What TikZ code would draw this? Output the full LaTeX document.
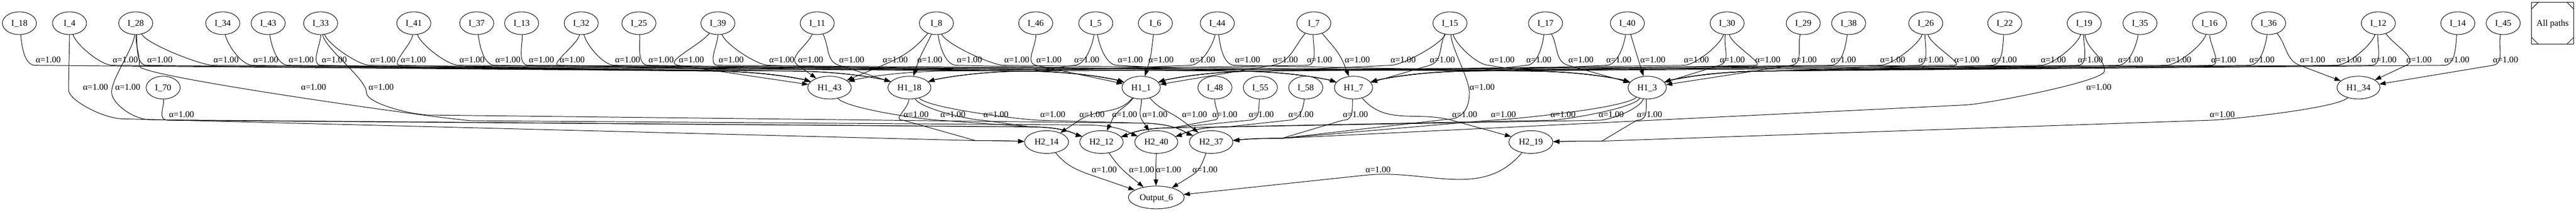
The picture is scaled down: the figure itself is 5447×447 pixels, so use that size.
\documentclass[tikz,border=0pt]{standalone}
\usepackage{fontspec}
\setmainfont{Liberation Serif}
\usetikzlibrary{shapes.geometric,arrows.meta}
\pgfdeclarelayer{bg}
\pgfsetlayers{bg,main}

\newcommand\GNode[5]{%
  \node[nd,minimum width=#4pt] (#1) at (#2,#3) {#5};%
  \expandafter\xdef\csname nx@#1\endcsname{#2}%
  \expandafter\xdef\csname ny@#1\endcsname{#3}%
}
\newcommand\GSetQ[4]{%
  \expandafter\xdef\csname qo@#1\endcsname{#2}%
  \expandafter\xdef\csname qL@#1\endcsname{#3}%
  \expandafter\xdef\csname qR@#1\endcsname{#4}%
}
\newcommand\GInit[2]{%
  \edef\eSX{\csname nx@#1\endcsname}%
  \edef\eSY{\csname ny@#1\endcsname}%
  \edef\eTX{\csname nx@#2\endcsname}%
  \edef\eTY{\csname ny@#2\endcsname}%
  \edef\eQO{\csname qo@#2\endcsname}%
  \edef\eQL{\csname qL@#2\endcsname}%
  \edef\eQR{\csname qR@#2\endcsname}%
}
% edge: source, label x, label y, target
\newcommand\GEdge[4]{%
  \GInit{#1}{#4}%
  \pgfmathsetmacro\eBX{#2-27}%
  \pgfmathsetmacro\eBY{#3+12}%
  \pgfmathtruncatemacro\eSG{(\eTX>\eBX)?1:-1}%
  \ifnum\eSG>0 \let\eQY\eQL\else\let\eQY\eQR\fi
  \pgfmathtruncatemacro\eFar{(abs(\eTX-\eBX)>\eQO+60)?1:0}%
  \ifnum\eFar=1
    \pgfmathsetmacro\ePx{\eSX+0.15*(\eBX-\eSX)}%
    \pgfmathsetmacro\ePy{\eSY+45}%
    \pgfmathsetmacro\eRx{\eBX-(\eSG)*25}%
    \pgfmathsetmacro\eQX{\eTX-(\eSG)*\eQO}%
    \pgfmathsetmacro\eCx{\eQX+(\eSG)*0.5*\eQO}%
    \pgfmathsetmacro\eDx{\eTX-(\eSG)*50}%
    \pgfmathsetmacro\eDy{\eQY+0.55*(\eTY-\eQY)}%
    \draw[ar] (#1) .. controls (\ePx,\ePy) and (\eRx,\eBY) .. (\eBX,\eBY) -- (\eQX,\eQY) .. controls (\eCx,\eQY) and (\eDx,\eDy) .. (#4);%
  \else
    \pgfmathsetmacro\eOA{-90+max(-40,min(40,(\eBX-\eSX)*0.6))}%
    \pgfmathsetmacro\eIA{atan2(\eBY-\eTY,\eTX-\eBX)+180}%
    \draw[ar] (#1) to[out=\eOA,in=\eIA] (\eBX,\eBY) -- (#4);%
  \fi
  \node[lb] at (#2,#3) {α=1.00};%
}
% via edge: source, label x, label y, bend x, bend y, via x, via y, target
\newcommand\GVia[8]{%
  \GInit{#1}{#8}%
  \pgfmathtruncatemacro\eSG{(\eTX>#6)?1:-1}%
  \ifnum\eSG>0 \let\eQY\eQL\else\let\eQY\eQR\fi
  \pgfmathsetmacro\ePx{\eSX+0.1*(#4-\eSX)}%
  \pgfmathsetmacro\ePy{\eSY+55}%
  \pgfmathsetmacro\eRy{#5-30}%
  \pgfmathsetmacro\eUy{#5+22}%
  \pgfmathsetmacro\eUx{#6-(\eSG)*40}%
  \pgfmathsetmacro\eQX{\eTX-(\eSG)*\eQO}%
  \pgfmathsetmacro\eCx{\eQX+(\eSG)*0.5*\eQO}%
  \pgfmathsetmacro\eDx{\eTX-(\eSG)*50}%
  \pgfmathsetmacro\eDy{\eQY+0.55*(\eTY-\eQY)}%
  \draw[ar] (#1) .. controls (\ePx,\ePy) and (#4,\eRy) .. (#4,#5) .. controls (#4,\eUy) and (\eUx,#7) .. (#6,#7) -- (\eQX,\eQY) .. controls (\eCx,\eQY) and (\eDx,\eDy) .. (#8);%
  \node[lb] at (#2,#3) {α=1.00};%
}

\begin{document}
\begin{tikzpicture}[x=0.75pt,y=-0.75pt,
  font=\fontsize{14pt}{16pt}\selectfont,
  nd/.style={ellipse,draw,line width=0.8pt,fill=white,minimum height=36pt,inner sep=0pt,text height=9pt,text depth=0pt},
  lb/.style={inner sep=0pt,text height=9pt,text depth=0pt},
  ar/.style={line width=0.8pt,-{Triangle[length=10pt,width=7pt]}}]
\useasboundingbox (0,0) rectangle (5447,447);

% ---- row 0: inputs
\GNode{I18}{41}{49}{54}{I\_18}
\GNode{I4}{147}{49}{54}{I\_4}
\GNode{I28}{287}{49}{54}{I\_28}
\GNode{I34}{471}{49}{54}{I\_34}
\GNode{I43}{567}{49}{54}{I\_43}
\GNode{I33}{678}{49}{54}{I\_33}
\GNode{I41}{875}{49}{54}{I\_41}
\GNode{I37}{1008}{49}{54}{I\_37}
\GNode{I13}{1103}{49}{54}{I\_13}
\GNode{I32}{1229}{49}{54}{I\_32}
\GNode{I25}{1351}{49}{54}{I\_25}
\GNode{I39}{1518}{49}{54}{I\_39}
\GNode{I11}{1728}{49}{54}{I\_11}
\GNode{I8}{1980}{49}{54}{I\_8}
\GNode{I46}{2190}{49}{54}{I\_46}
\GNode{I5}{2317}{49}{54}{I\_5}
\GNode{I6}{2443}{49}{54}{I\_6}
\GNode{I44}{2574}{49}{54}{I\_44}
\GNode{I7}{2778}{49}{54}{I\_7}
\GNode{I15}{3066}{49}{54}{I\_15}
\GNode{I17}{3268}{49}{54}{I\_17}
\GNode{I40}{3441}{49}{54}{I\_40}
\GNode{I30}{3652}{49}{54}{I\_30}
\GNode{I29}{3813}{49}{54}{I\_29}
\GNode{I38}{3909}{49}{54}{I\_38}
\GNode{I26}{4072}{49}{54}{I\_26}
\GNode{I22}{4239}{49}{54}{I\_22}
\GNode{I19}{4407}{49}{54}{I\_19}
\GNode{I35}{4525}{49}{54}{I\_35}
\GNode{I16}{4672}{49}{54}{I\_16}
\GNode{I36}{4797}{49}{54}{I\_36}
\GNode{I12}{5029}{49}{54}{I\_12}
\GNode{I14}{5197}{49}{54}{I\_14}
\GNode{I45}{5293}{49}{54}{I\_45}

% ---- row 1
\GNode{I70}{345}{185}{54}{I\_70}
\GNode{Ha43}{1754}{185}{69}{H1\_43}
\GNode{Ha18}{1923}{185}{68.25}{H1\_18}
\GNode{Ha1}{2413}{185}{60.75}{H1\_1}
\GNode{I48}{2569}{185}{54}{I\_48}
\GNode{I55}{2665}{185}{54}{I\_55}
\GNode{I58}{2761}{185}{54}{I\_58}
\GNode{Ha7}{2862}{185}{60.75}{H1\_7}
\GNode{Ha3}{3483}{185}{60.75}{H1\_3}
\GNode{Ha34}{4987}{185}{68.25}{H1\_34}

% ---- row 2
\GNode{Hb14}{2213}{300}{69.75}{H2\_14}
\GNode{Hb12}{2329}{300}{69}{H2\_12}
\GNode{Hb40}{2445}{300}{68.25}{H2\_40}
\GNode{Hb37}{2561}{300}{69}{H2\_37}
\GNode{Hb19}{3237}{300}{69.75}{H2\_19}

% ---- output
\GNode{Out}{2445}{417}{88.5}{Output\_6}

% legend box (Msquare)
\node[draw,line width=0.8pt,minimum width=66.75pt,minimum height=66pt,inner sep=0pt,text height=9pt,text depth=0pt] (AP) at (5397.5,49) {All paths};
\draw[line width=0.8pt] ([yshift=-11.25pt]AP.north west) -- ([xshift=11.25pt]AP.north west);
\draw[line width=0.8pt] ([yshift=-11.25pt]AP.north east) -- ([xshift=-11.25pt]AP.north east);
\draw[line width=0.8pt] ([yshift=11.25pt]AP.south west) -- ([xshift=11.25pt]AP.south west);
\draw[line width=0.8pt] ([yshift=11.25pt]AP.south east) -- ([xshift=-11.25pt]AP.south east);

% approach parameters of targets
\GSetQ{Ha43}{260}{150}{150}
\GSetQ{Ha18}{260}{150}{150}
\GSetQ{Ha1}{260}{150}{150}
\GSetQ{Ha7}{260}{150}{150}
\GSetQ{Ha3}{260}{150}{150}
\GSetQ{Ha34}{260}{150}{150}
\GSetQ{Hb14}{150}{297}{270}
\GSetQ{Hb12}{150}{268}{270}
\GSetQ{Hb40}{150}{264}{268}
\GSetQ{Hb37}{150}{260}{292}
\GSetQ{Hb19}{150}{285}{298}
\GSetQ{Out}{10000}{400}{400}

\begin{pgfonlayer}{bg}
% inputs -> H1
\GEdge{I18}{102}{126}{Ha43}
\GEdge{I4}{265}{126}{Ha18}
\GEdge{I28}{338}{126}{Ha43}
\GEdge{I28}{478}{126}{Ha1}
\GEdge{I34}{562}{126}{Ha43}
\GEdge{I43}{637}{126}{Ha18}
\GEdge{I33}{707}{126}{Ha43}
\GEdge{I33}{810}{126}{Ha1}
\GEdge{I41}{874}{126}{Ha43}
\GEdge{I41}{998}{126}{Ha7}
\GEdge{I37}{1074}{126}{Ha1}
\GEdge{I13}{1145}{126}{Ha3}
\GEdge{I32}{1210}{126}{Ha18}
\GEdge{I32}{1327}{126}{Ha7}
\GEdge{I25}{1398}{126}{Ha1}
\GEdge{I39}{1462}{126}{Ha43}
\GEdge{I39}{1546}{126}{Ha3}
\GEdge{I39}{1653}{126}{Ha1}
\GEdge{I11}{1714}{126}{Ha43}
\GEdge{I11}{1801}{126}{Ha18}
\GEdge{I8}{1893}{126}{Ha43}
\GEdge{I8}{1966}{126}{Ha18}
\GEdge{I8}{2050}{126}{Ha7}
\GEdge{I8}{2150}{126}{Ha3}
\GEdge{I46}{2218}{126}{Ha1}
\GEdge{I5}{2298}{126}{Ha18}
\GEdge{I5}{2390}{126}{Ha7}
\GEdge{I6}{2455}{126}{Ha1}
\GEdge{I44}{2543}{126}{Ha18}
\GEdge{I44}{2638}{126}{Ha3}
\GEdge{I7}{2718}{126}{Ha1}
\GEdge{I7}{2790}{126}{Ha43}
\GEdge{I7}{2870}{126}{Ha7}
\GEdge{I15}{2967}{126}{Ha1}
\GEdge{I15}{3050}{126}{Ha7}
\GEdge{I15}{3176}{126}{Ha3}
\GEdge{I17}{3254}{126}{Ha7}
\GEdge{I17}{3343}{126}{Ha3}
\GEdge{I40}{3423}{126}{Ha7}
\GEdge{I40}{3495}{126}{Ha3}
\GEdge{I30}{3587}{126}{Ha1}
\GEdge{I30}{3663}{126}{Ha3}
\GEdge{I30}{3738}{126}{Ha7}
\GEdge{I29}{3815}{126}{Ha3}
\GEdge{I38}{3898}{126}{Ha1}
\GEdge{I26}{4002}{126}{Ha7}
\GEdge{I26}{4083}{126}{Ha3}
\GEdge{I26}{4159}{126}{Ha18}
\GEdge{I22}{4238}{126}{Ha3}
\GEdge{I19}{4342}{126}{Ha7}
\GEdge{I19}{4420}{126}{Ha3}
\GEdge{I35}{4505}{126}{Ha3}
\GEdge{I16}{4607}{126}{Ha1}
\GEdge{I16}{4702}{126}{Ha3}
\GEdge{I36}{4783}{126}{Ha3}
\GEdge{I36}{4890}{126}{Ha34}
\GEdge{I12}{4967}{126}{Ha7}
\GEdge{I12}{5041}{126}{Ha3}
\GEdge{I12}{5115}{126}{Ha34}
\GEdge{I14}{5195}{126}{Ha3}
\GEdge{I45}{5298}{126}{Ha34}

% inputs -> H2 (skipping H1)
\GVia{I4}{202}{184}{145}{190}{260}{251}{Hb14}
\GVia{I28}{270}{184}{236}{195}{320}{253}{Hb12}
\GVia{I28}{663}{184}{295}{140}{1000}{255}{Hb40}
\GVia{I33}{806}{184}{775}{196}{910}{243}{Hb37}
\GVia{I15}{3134}{184}{3107}{196}{3060}{252}{Hb37}
\GVia{I19}{4438}{184}{4450}{150}{4150}{222}{Hb37}

% H1 level -> H2
\GEdge{I70}{384}{242}{Hb12}
\GEdge{Ha43}{2015}{242}{Hb12}
\GEdge{Ha18}{1937}{242}{Hb14}
\GEdge{Ha18}{2106}{242}{Hb12}
\GEdge{Ha18}{2226}{242}{Hb37}
\GEdge{Ha1}{2309}{242}{Hb14}
\GEdge{Ha1}{2378}{242}{Hb12}
\GEdge{Ha1}{2442}{242}{Hb40}
\GEdge{Ha1}{2526}{242}{Hb37}
\GEdge{I48}{2590}{242}{Hb12}
\GEdge{I55}{2667}{242}{Hb12}
\GEdge{I58}{2751}{242}{Hb40}
\GEdge{Ha7}{2866}{242}{Hb37}
\GEdge{Ha7}{3097}{242}{Hb19}
\GEdge{Ha3}{3179}{242}{Hb37}
\GEdge{Ha3}{3305}{242}{Hb12}
\GEdge{Ha3}{3407}{242}{Hb40}
\GEdge{Ha3}{3488}{242}{Hb19}
\GEdge{Ha34}{4699}{242}{Hb19}

% H2 -> output
\GEdge{Hb14}{2335}{358}{Out}
\GEdge{Hb12}{2414}{358}{Out}
\GEdge{Hb40}{2471}{358}{Out}
\GEdge{Hb37}{2548}{358}{Out}
\GEdge{Hb19}{2914}{358}{Out}
\end{pgfonlayer}
\end{tikzpicture}
\end{document}
